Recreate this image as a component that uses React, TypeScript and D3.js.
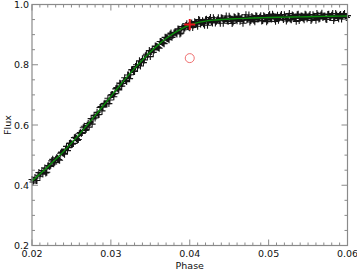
import * as d3 from "d3";

// observed light curve, first set (phase, relative flux)
const obsPhase = [
  0.02, 0.02025, 0.0205, 0.02075, 0.021, 0.02125, 0.0215, 0.02175, 0.022, 0.02225,
  0.0225, 0.02275, 0.023, 0.02325, 0.0235, 0.02375, 0.024, 0.02425, 0.0245, 0.02475,
  0.025, 0.02525, 0.0255, 0.02575, 0.026, 0.02625, 0.0265, 0.02675, 0.027, 0.02725,
  0.0275, 0.02775, 0.028, 0.02825, 0.0285, 0.02875, 0.029, 0.02925, 0.0295, 0.02975,
  0.03, 0.03025, 0.0305, 0.03075, 0.031, 0.03125, 0.0315, 0.03175, 0.032, 0.03225,
  0.0325, 0.03275, 0.033, 0.03325, 0.0335, 0.03375, 0.034, 0.03425, 0.0345, 0.03475,
  0.035, 0.03525, 0.0355, 0.03575, 0.036, 0.03625, 0.0365, 0.03675, 0.037, 0.03725,
  0.0375, 0.03775, 0.038, 0.03825, 0.0385, 0.03875, 0.039, 0.03925, 0.0395, 0.03975,
  0.04, 0.04025, 0.0405, 0.04075, 0.041, 0.04125, 0.0415, 0.04175, 0.042, 0.04225,
  0.0425, 0.04275, 0.043, 0.04325, 0.0435, 0.04375, 0.044, 0.04425, 0.0445, 0.04475,
  0.045, 0.04525, 0.0455, 0.04575, 0.046, 0.04625, 0.0465, 0.04675, 0.047, 0.04725,
  0.0475, 0.04775, 0.048, 0.04825, 0.0485, 0.04875, 0.049, 0.04925, 0.0495, 0.04975,
  0.05, 0.05025, 0.0505, 0.05075, 0.051, 0.05125, 0.0515, 0.05175, 0.052, 0.05225,
  0.0525, 0.05275, 0.053, 0.05325, 0.0535, 0.05375, 0.054, 0.05425, 0.0545, 0.05475,
  0.055, 0.05525, 0.0555, 0.05575, 0.056, 0.05625, 0.0565, 0.05675, 0.057, 0.05725,
  0.0575, 0.05775, 0.058, 0.05825, 0.0585, 0.05875, 0.059, 0.05925, 0.0595, 0.05975,
  0.06,
];
const obsFlux = [
  0.419, 0.416, 0.416, 0.433, 0.43, 0.449, 0.448, 0.441, 0.464, 0.462,
  0.481, 0.471, 0.486, 0.49, 0.483, 0.51, 0.506, 0.52, 0.515, 0.539,
  0.538, 0.539, 0.559, 0.549, 0.571, 0.572, 0.591, 0.582, 0.599, 0.593,
  0.621, 0.62, 0.623, 0.642, 0.635, 0.661, 0.659, 0.672, 0.67, 0.671,
  0.699, 0.701, 0.704, 0.724, 0.716, 0.737, 0.738, 0.757, 0.744, 0.766,
  0.767, 0.784, 0.778, 0.8, 0.799, 0.796, 0.818, 0.816, 0.835, 0.835,
  0.827, 0.852, 0.849, 0.861, 0.857, 0.877, 0.874, 0.87, 0.89, 0.886,
  0.901, 0.891, 0.905, 0.905, 0.919, 0.902, 0.922, 0.916, 0.93, 0.927,
  0.923, 0.939, 0.932, 0.939, 0.928, 0.948, 0.94, 0.936, 0.949, 0.931,
  0.95, 0.942, 0.956, 0.939, 0.949, 0.946, 0.956, 0.938, 0.953, 0.946,
  0.961, 0.95, 0.942, 0.957, 0.946, 0.96, 0.953, 0.938, 0.957, 0.949,
  0.965, 0.947, 0.956, 0.943, 0.961, 0.953, 0.963, 0.947, 0.959, 0.943,
  0.963, 0.953, 0.968, 0.952, 0.958, 0.948, 0.962, 0.956, 0.966, 0.945,
  0.961, 0.952, 0.965, 0.958, 0.944, 0.968, 0.954, 0.961, 0.949, 0.965,
  0.957, 0.967, 0.952, 0.961, 0.948, 0.964, 0.954, 0.971, 0.959, 0.952,
  0.967, 0.957, 0.964, 0.947, 0.97, 0.957, 0.964, 0.952, 0.967, 0.959,
  0.963,
];

// observed light curve, second set
const obsPhase2 = [
  0.020125, 0.020375, 0.020625, 0.020875, 0.021125, 0.021375, 0.021625, 0.021875,
  0.022125, 0.022375, 0.022625, 0.022875, 0.023125, 0.023375, 0.023625, 0.023875,
  0.024125, 0.024375, 0.024625, 0.024875, 0.025125, 0.025375, 0.025625, 0.025875,
  0.026125, 0.026375, 0.026625, 0.026875, 0.027125, 0.027375, 0.027625, 0.027875,
  0.028125, 0.028375, 0.028625, 0.028875, 0.029125, 0.029375, 0.029625, 0.029875,
  0.030125, 0.030375, 0.030625, 0.030875, 0.031125, 0.031375, 0.031625, 0.031875,
  0.032125, 0.032375, 0.032625, 0.032875, 0.033125, 0.033375, 0.033625, 0.033875,
  0.034125, 0.034375, 0.034625, 0.034875, 0.035125, 0.035375, 0.035625, 0.035875,
  0.036125, 0.036375, 0.036625, 0.036875, 0.037125, 0.037375, 0.037625, 0.037875,
  0.038125, 0.038375, 0.038625, 0.038875, 0.039125, 0.039375, 0.039625, 0.039875,
  0.040125, 0.040375, 0.040625, 0.040875, 0.041125, 0.041375, 0.041625, 0.041875,
  0.042125, 0.042375, 0.042625, 0.042875, 0.043125, 0.043375, 0.043625, 0.043875,
  0.044125, 0.044375, 0.044625, 0.044875, 0.045125, 0.045375, 0.045625, 0.045875,
  0.046125, 0.046375, 0.046625, 0.046875, 0.047125, 0.047375, 0.047625, 0.047875,
  0.048125, 0.048375, 0.048625, 0.048875, 0.049125, 0.049375, 0.049625, 0.049875,
  0.050125, 0.050375, 0.050625, 0.050875, 0.051125, 0.051375, 0.051625, 0.051875,
  0.052125, 0.052375, 0.052625, 0.052875, 0.053125, 0.053375, 0.053625, 0.053875,
  0.054125, 0.054375, 0.054625, 0.054875, 0.055125, 0.055375, 0.055625, 0.055875,
  0.056125, 0.056375, 0.056625, 0.056875, 0.057125, 0.057375, 0.057625, 0.057875,
  0.058125, 0.058375, 0.058625, 0.058875, 0.059125, 0.059375, 0.059625, 0.059875,
];
const obsFlux2 = [
  0.411, 0.426, 0.416, 0.442, 0.438, 0.437, 0.457, 0.443, 0.465, 0.466,
  0.486, 0.476, 0.491, 0.485, 0.506, 0.508, 0.503, 0.529, 0.525, 0.54,
  0.536, 0.558, 0.555, 0.552, 0.575, 0.575, 0.596, 0.586, 0.605, 0.608,
  0.603, 0.632, 0.633, 0.634, 0.658, 0.647, 0.67, 0.67, 0.689, 0.683,
  0.701, 0.694, 0.72, 0.72, 0.739, 0.729, 0.746, 0.748, 0.766, 0.754,
  0.783, 0.78, 0.794, 0.79, 0.813, 0.811, 0.807, 0.83, 0.826, 0.847,
  0.844, 0.841, 0.862, 0.86, 0.855, 0.877, 0.872, 0.891, 0.887, 0.883,
  0.905, 0.898, 0.908, 0.902, 0.918, 0.905, 0.927, 0.922, 0.936, 0.925,
  0.935, 0.924, 0.943, 0.935, 0.95, 0.935, 0.946, 0.931, 0.951, 0.944,
  0.957, 0.939, 0.949, 0.944, 0.956, 0.938, 0.954, 0.948, 0.962, 0.944,
  0.954, 0.937, 0.959, 0.949, 0.962, 0.944, 0.957, 0.948, 0.966, 0.953,
  0.942, 0.96, 0.948, 0.963, 0.952, 0.958, 0.945, 0.963, 0.956, 0.948,
  0.967, 0.952, 0.961, 0.944, 0.964, 0.955, 0.967, 0.95, 0.959, 0.952,
  0.97, 0.949, 0.963, 0.957, 0.966, 0.947, 0.962, 0.954, 0.968, 0.953,
  0.962, 0.947, 0.966, 0.957, 0.97, 0.952, 0.965, 0.957, 0.962, 0.95,
  0.968, 0.959, 0.97, 0.955, 0.965, 0.953, 0.967, 0.961, 0.97, 0.957,
];

// fitted model (green)
const modelPhase = [
  0.02, 0.021, 0.022, 0.023, 0.024, 0.025, 0.026, 0.027, 0.028, 0.029,
  0.03, 0.031, 0.032, 0.033, 0.034, 0.035, 0.036, 0.037, 0.038, 0.039,
  0.04, 0.041, 0.042, 0.043, 0.044, 0.045, 0.046, 0.047, 0.048, 0.049,
  0.05, 0.052, 0.054, 0.056, 0.058, 0.06,
];
const modelFlux = [
  0.414, 0.437, 0.461, 0.486, 0.512, 0.54, 0.569, 0.6, 0.631, 0.663,
  0.695, 0.727, 0.758, 0.788, 0.816, 0.842, 0.866, 0.887, 0.905, 0.92,
  0.932, 0.94, 0.945, 0.948, 0.95, 0.952, 0.953, 0.954, 0.955, 0.956,
  0.957, 0.958, 0.959, 0.96, 0.961, 0.962,
];

// highlighted points
const contactPoint = [0.04, 0.934];
const offsetPoint = [0.04, 0.822];

const xTicks = [0.02, 0.03, 0.04, 0.05, 0.06];
const yTicks = [0.2, 0.4, 0.6, 0.8, 1.0];

const W = 357;
const H = 270;
const margin = { top: 4.5, right: 9.5, bottom: 24.5, left: 32 };
const axisColor = "#8a8a8a";
const font = "DejaVu Sans, sans-serif";

export default function App() {
  const x = d3.scaleLinear().domain([0.02, 0.06]).range([margin.left, W - margin.right]);
  const y = d3.scaleLinear().domain([0.2, 1.0]).range([H - margin.bottom, margin.top]);

  const line = d3
    .line<number>()
    .x((d, i) => x(modelPhase[i]))
    .y((d) => y(d))
    .curve(d3.curveMonotoneX);

  const minorX = d3.range(0.02, 0.0600001, 0.001);
  const minorY = d3.range(0.2, 1.00001, 0.05);
  const x0 = margin.left;
  const x1 = W - margin.right;
  const y0 = H - margin.bottom;
  const y1 = margin.top;

  const plus = (cx: number, cy: number, s: number) =>
    `M${cx - s},${cy}H${cx + s}M${cx},${cy - s}V${cy + s}`;

  const marks =
    obsFlux.map((f, i) => plus(x(obsPhase[i]), y(f), 3.5)).join("") +
    obsFlux2.map((f, i) => plus(x(obsPhase2[i]), y(f), 3.5)).join("");

  return (
    <svg
      width={W}
      height={H}
      style={{ position: "absolute", left: 0, top: 0, background: "#fff" }}
    >
      {/* data points */}
      <path d={marks} stroke="#141414" strokeWidth={1.1} fill="none" />
      <path d={line(modelFlux) ?? ""} stroke="#0a8a0a" strokeWidth={1.4} fill="none" />
      <path
        d={plus(x(contactPoint[0]), y(contactPoint[1]), 5.5)}
        stroke="#e8141c"
        strokeWidth={2}
        fill="none"
      />
      <circle
        cx={x(offsetPoint[0])}
        cy={y(offsetPoint[1])}
        r={4.5}
        fill="none"
        stroke="#f07070"
        strokeWidth={1}
      />

      {/* frame and ticks */}
      <rect x={x0} y={y1} width={x1 - x0} height={y0 - y1} fill="none" stroke={axisColor} strokeWidth={1.2} />
      <g stroke={axisColor} strokeWidth={1}>
        {minorX.map((t) => {
          const major = xTicks.some((m) => Math.abs(m - t) < 1e-7);
          const len = major ? 6 : 3;
          return (
            <g key={`x${t}`}>
              <line x1={x(t)} x2={x(t)} y1={y0} y2={y0 - len} />
              <line x1={x(t)} x2={x(t)} y1={y1} y2={y1 + len} />
            </g>
          );
        })}
        {minorY.map((t) => {
          const major = yTicks.some((m) => Math.abs(m - t) < 1e-7);
          const len = major ? 6 : 3;
          return (
            <g key={`y${t}`}>
              <line x1={x0} x2={x0 + len} y1={y(t)} y2={y(t)} />
              <line x1={x1} x2={x1 - len} y1={y(t)} y2={y(t)} />
            </g>
          );
        })}
      </g>

      {/* labels */}
      <g fontFamily={font} fontSize={9.5} fill="#111">
        {xTicks.map((t) => (
          <text key={`xl${t}`} x={x(t)} y={y0 + 11.5} textAnchor="middle">
            {t.toFixed(2)}
          </text>
        ))}
        {yTicks.map((t) => (
          <text key={`yl${t}`} x={x0 - 3} y={y(t) + 3.5} textAnchor="end">
            {t.toFixed(1)}
          </text>
        ))}
        <text x={(x0 + x1) / 2} y={H - 1.5} textAnchor="middle">
          Phase
        </text>
        <text transform={`translate(11,${(y0 + y1) / 2}) rotate(-90)`} textAnchor="middle">
          Flux
        </text>
      </g>
    </svg>
  );
}
